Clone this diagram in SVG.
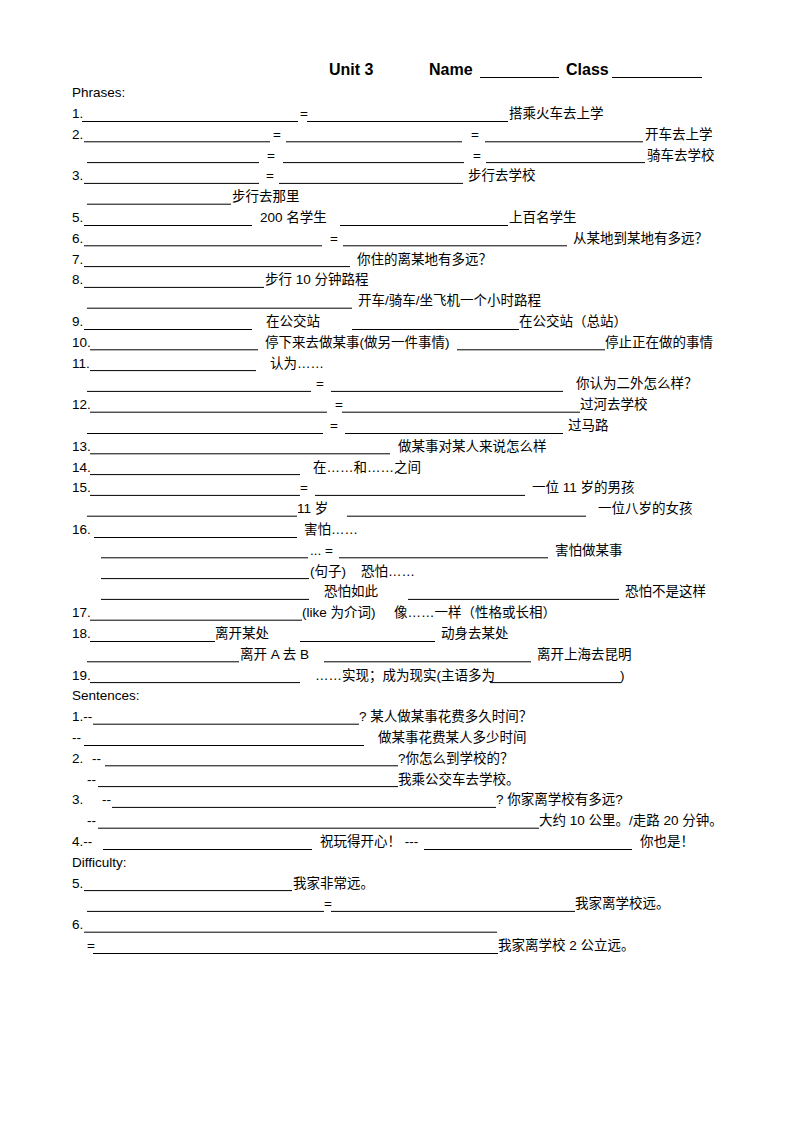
<svg xmlns="http://www.w3.org/2000/svg" width="794" height="1123" viewBox="0 0 794 1123">
<style>
text{font-family:"Liberation Sans","Noto Sans CJK SC",sans-serif;font-size:13.5px;fill:#000}
.h{font-weight:bold;font-size:16px}
.u{stroke:#000;stroke-width:1;fill:none}
</style>
<rect width="794" height="1123" fill="#fff"/>
<g id="header">
<text class="h" x="329" y="75">Unit 3</text>
<text class="h" x="429" y="75">Name</text>
<text class="h" x="566" y="75">Class</text>
<path class="u" d="M480 77.5H559M612 77.5H702"/>
</g>
<g id="phrases-title"><text x="72" y="97">Phrases:</text></g>
<g id="r0" transform="translate(0,118)"><text x="72" y="0">1.</text><text x="300" y="0">=</text><text x="509" y="0">搭乘火车去上学</text><path class="u" d="M82 3.5H298M307 3.5H508"/></g>
<g id="r1" transform="translate(0,138.8)"><text x="72" y="0">2.</text><text x="273" y="0">=</text><text x="471" y="0">=</text><text x="645" y="0">开车去上学</text><path class="u" d="M84 3H270M286 3H462M485 3H643"/></g>
<g id="r2" transform="translate(0,159.6)"><text x="267" y="0">=</text><text x="473" y="0">=</text><text x="647" y="0">骑车去学校</text><path class="u" d="M87 3H259M283 3H464M486 3H645"/></g>
<g id="r3" transform="translate(0,180.4)"><text x="72" y="0">3.</text><text x="266" y="0">=</text><text x="468" y="0">步行去学校</text><path class="u" d="M84 3H259M279 3H463"/></g>
<g id="r4" transform="translate(0,201.2)"><text x="232" y="0">步行去那里</text><path class="u" d="M87 3H231"/></g>
<g id="r5" transform="translate(0,222)"><text x="72" y="0">5.</text><text x="260" y="0">200 名学生</text><text x="509" y="0">上百名学生</text><path class="u" d="M84 3.5H252M340 3.5H508"/></g>
<g id="r6" transform="translate(0,242.8)"><text x="72" y="0">6.</text><text x="330" y="0">=</text><text x="573" y="0">从某地到某地有多远？</text><path class="u" d="M84 3H322M343 3H567"/></g>
<g id="r7" transform="translate(0,263.6)"><text x="72" y="0">7.</text><text x="357" y="0">你住的离某地有多远？</text><path class="u" d="M84 3H350"/></g>
<g id="r8" transform="translate(0,284.4)"><text x="72" y="0">8.</text><text x="265" y="0">步行 10 分钟路程</text><path class="u" d="M84 3H264"/></g>
<g id="r9" transform="translate(0,305.2)"><text x="358" y="0">开车/骑车/坐飞机一个小时路程</text><path class="u" d="M87 3H352"/></g>
<g id="r10" transform="translate(0,326)"><text x="72" y="0">9.</text><text x="266" y="0">在公交站</text><text x="519" y="0">在公交站（总站）</text><path class="u" d="M84 3.5H252M352 3.5H519"/></g>
<g id="r11" transform="translate(0,346.8)"><text x="72" y="0">10.</text><text x="265" y="0">停下来去做某事(做另一件事情)</text><text x="605" y="0">停止正在做的事情</text><path class="u" d="M90 3H258M457 3H605"/></g>
<g id="r12" transform="translate(0,367.6)"><text x="72" y="0">11.</text><text x="270" y="0">认为……</text><path class="u" d="M90 3H256"/></g>
<g id="r13" transform="translate(0,388.4)"><text x="316" y="0">=</text><text x="576" y="0">你认为二外怎么样？</text><path class="u" d="M87 3H311M331 3H563"/></g>
<g id="r14" transform="translate(0,409.2)"><text x="72" y="0">12.</text><text x="335" y="0">=</text><text x="580" y="0">过河去学校</text><path class="u" d="M90 3H327M342 3H580"/></g>
<g id="r15" transform="translate(0,430)"><text x="330" y="0">=</text><text x="568" y="0">过马路</text><path class="u" d="M87 3.5H323M345 3.5H563"/></g>
<g id="r16" transform="translate(0,450.8)"><text x="72" y="0">13.</text><text x="398" y="0">做某事对某人来说怎么样</text><path class="u" d="M90 3H390"/></g>
<g id="r17" transform="translate(0,471.6)"><text x="72" y="0">14.</text><text x="313" y="0">在……和……之间</text><path class="u" d="M90 3H300"/></g>
<g id="r18" transform="translate(0,492.4)"><text x="72" y="0">15.</text><text x="300" y="0">=</text><text x="532" y="0">一位 11 岁的男孩</text><path class="u" d="M90 3H300M315 3H525"/></g>
<g id="r19" transform="translate(0,513.2)"><text x="297" y="0">11 岁</text><text x="598" y="0">一位八岁的女孩</text><path class="u" d="M87 3H297M347 3H586"/></g>
<g id="r20" transform="translate(0,534)"><text x="72" y="0">16.</text><text x="304" y="0">害怕……</text><path class="u" d="M94 3.5H297"/></g>
<g id="r21" transform="translate(0,554.8)"><text x="310" y="0">... =</text><text x="555" y="0">害怕做某事</text><path class="u" d="M101 3H308M339 3H548"/></g>
<g id="r22" transform="translate(0,575.6)"><text x="310" y="0">(句子)</text><text x="361" y="0">恐怕……</text><path class="u" d="M101 3H309"/></g>
<g id="r23" transform="translate(0,596.4)"><text x="324" y="0">恐怕如此</text><text x="625" y="0">恐怕不是这样</text><path class="u" d="M101 3H309M408 3H619"/></g>
<g id="r24" transform="translate(0,617.2)"><text x="72" y="0">17.</text><text x="302" y="0">(like 为介词)</text><text x="394" y="0">像……一样（性格或长相）</text><path class="u" d="M90 3H302"/></g>
<g id="r25" transform="translate(0,638)"><text x="72" y="0">18.</text><text x="215" y="0">离开某处</text><text x="441" y="0">动身去某处</text><path class="u" d="M90 3.5H215M300 3.5H435"/></g>
<g id="r26" transform="translate(0,658.8)"><text x="240" y="0">离开 A 去 B</text><text x="537" y="0">离开上海去昆明</text><path class="u" d="M87 3H239M324 3H531"/></g>
<g id="r27" transform="translate(0,679.6)"><text x="72" y="0">19.</text><text x="315" y="0">……实现；成为现实(主语多为</text><text x="620" y="0">)</text><path class="u" d="M90 3H300M490 3H621"/></g>
<g id="sentences-title"><text x="72" y="700.4">Sentences:</text></g>
<g id="s1" transform="translate(0,721.2)"><text x="72" y="0">1.--</text><text x="359" y="0">? 某人做某事花费多久时间？</text><path class="u" d="M93 3H359"/></g>
<g id="s1b" transform="translate(0,742)"><text x="72" y="0">--</text><text x="378" y="0">做某事花费某人多少时间</text><path class="u" d="M84 3.5H364"/></g>
<g id="s2" transform="translate(0,762.8)"><text x="72" y="0">2.</text><text x="92" y="0">--</text><text x="398" y="0">?你怎么到学校的？</text><path class="u" d="M105 3H398"/></g>
<g id="s2b" transform="translate(0,783.6)"><text x="87" y="0">--</text><text x="398" y="0">我乘公交车去学校。</text><path class="u" d="M98 3H398"/></g>
<g id="s3" transform="translate(0,804.4)"><text x="72" y="0">3.</text><text x="102" y="0">--</text><text x="496" y="0">? 你家离学校有多远?</text><path class="u" d="M112 3H496"/></g>
<g id="s3b" transform="translate(0,825.2)"><text x="87" y="0">--</text><text x="539" y="0">大约 10 公里。/走路 20 分钟。</text><path class="u" d="M98 3H539"/></g>
<g id="s4" transform="translate(0,846)"><text x="72" y="0">4.--</text><text x="320" y="0">祝玩得开心！ ---</text><text x="640" y="0">你也是！</text><path class="u" d="M103 3.5H312M424 3.5H632"/></g>
<g id="difficulty-title"><text x="72" y="866.8">Difficulty:</text></g>
<g id="d5" transform="translate(0,887.6)"><text x="72" y="0">5.</text><text x="293" y="0">我家非常远。</text><path class="u" d="M84 3H292"/></g>
<g id="d5b" transform="translate(0,908.4)"><text x="324" y="0">=</text><text x="575" y="0">我家离学校远。</text><path class="u" d="M87 3H324M331 3H575"/></g>
<g id="d6" transform="translate(0,929.2)"><text x="72" y="0">6.</text><path class="u" d="M84 3H497"/></g>
<g id="d6b" transform="translate(0,950)"><text x="87" y="0">=</text><text x="498" y="0">我家离学校 2 公立远。</text><path class="u" d="M93 3.5H498"/></g>
</svg>
